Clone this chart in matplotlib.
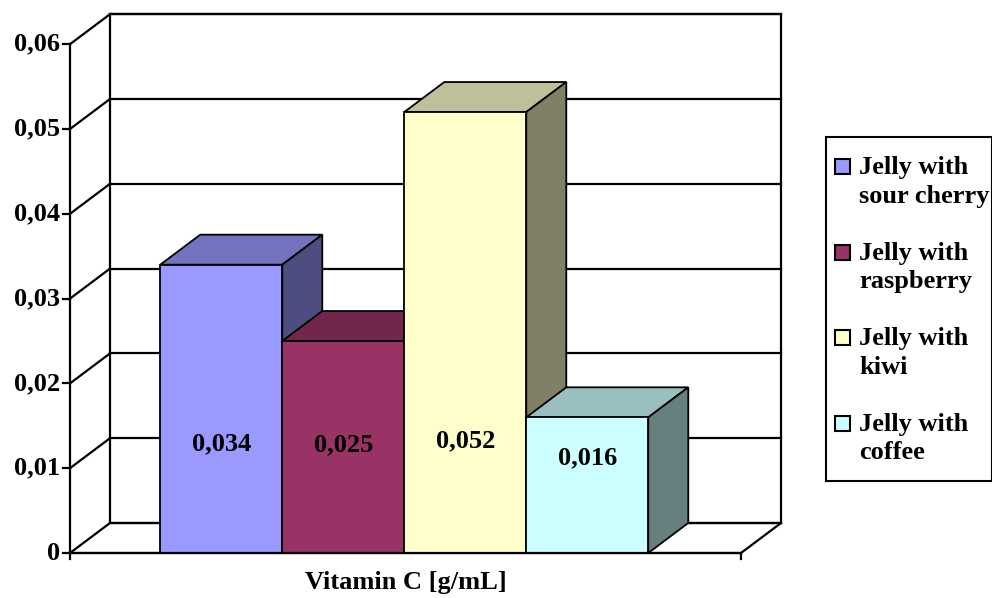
import matplotlib
matplotlib.use('Agg')
import matplotlib.pyplot as plt
from matplotlib.patches import Polygon, Rectangle

flavours = ['Jelly with\nsour cherry', 'Jelly with\nraspberry', 'Jelly with\nkiwi', 'Jelly with\ncoffee']
vitamin_c = [0.034, 0.025, 0.052, 0.016]
value_text = ['0,034', '0,025', '0,052', '0,016']
label_y = [0.0129, 0.0127, 0.0132, 0.0112]
front_colors = ['#9999FF', '#993366', '#FFFFCC', '#CCFFFF']
ticks = [0, 0.01, 0.02, 0.03, 0.04, 0.05, 0.06]
tick_text = ['0', '0,01', '0,02', '0,03', '0,04', '0,05', '0,06']

FONT = 'Liberation Serif'
FS = 19

W, H = 992, 598
fig = plt.figure(figsize=(W / 100, H / 100), dpi=100)
ax = fig.add_axes([0, 0, 1, 1])
ax.axis('off')

# pixels per unit along each axis, and the fake 3d depth
PX, PY = 122.0, 8480.0
ax.set_xlim(-70 / PX, (W - 70) / PX)
ax.set_ylim(-45 / PY, (H - 45) / PY)
DX, DY = 40 / PX, 30 / PY
XMAX, YMAX = 671 / PX, 0.06


def shade(c, k):
    r, g, b = matplotlib.colors.to_rgb(c)
    return (r * k, g * k, b * k)


wall = dict(color='black', lw=1.6, solid_capstyle='projecting', zorder=1)

# back wall, floor and left wall
ax.add_patch(Polygon([(DX, DY), (XMAX + DX, DY), (XMAX + DX, YMAX + DY), (DX, YMAX + DY)],
                     closed=True, facecolor='white', edgecolor='black', lw=1.6, zorder=0))
for t in ticks:
    ax.plot([DX, XMAX + DX], [t + DY, t + DY], **wall)
    ax.plot([0, DX], [t, t + DY], **wall)
ax.plot([0, 0], [0, YMAX], **wall)
ax.plot([0, XMAX, XMAX + DX], [0, 0, DY], **wall)

# axis ticks and labels
for t, s in zip(ticks, tick_text):
    ax.plot([-7 / PX, 0], [t, t], **wall)
    ax.text(-10 / PX, t, s, ha='right', va='center', fontsize=FS,
            fontweight='bold', family=FONT)
for x in [0, XMAX]:
    ax.plot([x, x], [0, -6 / PY], **wall)

# 3d bars, left to right so later faces hide earlier sides
for i, (v, c) in enumerate(zip(vitamin_c, front_colors)):
    x = 0.74 + i
    z = 3 + i
    ax.add_patch(Polygon([(x, v), (x + 1, v), (x + 1 + DX, v + DY), (x + DX, v + DY)],
                         closed=True, facecolor=shade(c, 0.75), edgecolor='black',
                         lw=1.3, zorder=z))
    ax.add_patch(Polygon([(x + 1, 0), (x + 1 + DX, DY), (x + 1 + DX, v + DY), (x + 1, v)],
                         closed=True, facecolor=shade(c, 0.5), edgecolor='black',
                         lw=1.3, zorder=z))
    ax.add_patch(Rectangle((x, 0), 1, v, facecolor=c, edgecolor='black', lw=1.3, zorder=z))
    ax.text(x + 0.5, label_y[i], value_text[i], ha='center', va='center',
            fontsize=FS, fontweight='bold', family=FONT, zorder=10)

ax.plot([0, XMAX], [0, 0], color='black', lw=1.6, zorder=9)

ax.text(XMAX / 2, -29 / PY, 'Vitamin C [g/mL]', ha='center', va='center',
        fontsize=FS, fontweight='bold', family=FONT)


# legend drawn in figure pixels
def fp(x, y):
    return (x / W, 1 - y / H)


tf = fig.transFigure
fig.patches.append(Rectangle(fp(826, 481), 166 / W, 344 / H, transform=tf,
                             facecolor='white', edgecolor='black', lw=1.5))
for i, (name, c) in enumerate(zip(flavours, front_colors)):
    yc = 182 + i * 85.5
    fig.patches.append(Rectangle(fp(835, yc - 8), 15 / W, 15 / H, transform=tf,
                                 facecolor=c, edgecolor='black', lw=1.5))
    fig.text(*fp(859, yc), name, ha='left', va='center', fontsize=FS,
             fontweight='bold', family=FONT, linespacing=1.32)

fig.savefig('out.png', dpi=100)
